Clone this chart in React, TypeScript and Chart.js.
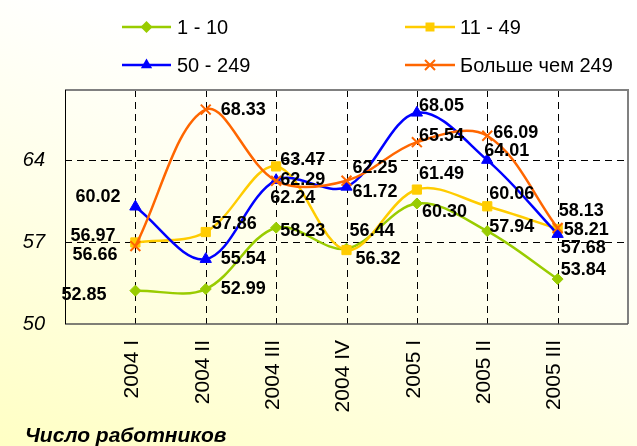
import React, { useEffect, useRef } from 'react';
import { Chart, registerables } from 'chart.js';

Chart.register(...registerables);

// ---- Data ----
const categories = ['2004 I', '2004 II', '2004 III', '2004 IV', '2005 I', '2005 II', '2005 III'];
const seriesNames = ['1 - 10', '11 - 49', '50 - 249', 'Больше чем 249'];
const series1to10 = [52.85, 52.99, 58.23, 56.44, 60.30, 57.94, 53.84];
const series11to49 = [56.97, 57.86, 63.47, 56.32, 61.49, 60.06, 58.13];
const series50to249 = [60.02, 55.54, 62.29, 61.72, 68.05, 64.01, 57.68];
const seriesOver249 = [56.66, 68.33, 62.24, 62.25, 65.54, 66.09, 58.21];
const yTicks = [50, 57, 64];
const yMin = 50;
const yMax = 70;
const axisTitle = 'Число работников';

// ---- Styles ----
const seriesValues = [series1to10, series11to49, series50to249, seriesOver249];
const seriesColors = ['#99CC00', '#FFCC00', '#0000FF', '#FF6600'];
const pointStyles = ['rectRot', 'rect', 'triangle', 'crossRot'];
const pointRadii = [5.5, 6.5, 6.5, 7];
// label offsets (left edge dx, vertical centre dy) relative to each point
const labelOffsets = [
  [[-74, 4], [15, 0], [4, 3], [3, -18], [5, 9], [2, -4], [3, -9]],
  [[-65, -6], [6, -8], [4, -6], [9, 9], [2, -16], [2, -12], [1, -18]],
  [[-60, -10], [15, 0], [4, 0], [6, 5], [2, -7], [-3, -9], [3, 14]],
  [[-63, 9], [15, 0], [-6, 17], [6, -13], [2, -6], [6, -3], [6, 2]],
];
const FONT = "'Liberation Sans', Arial, Helvetica, sans-serif";

function drawMarker(ctx: CanvasRenderingContext2D, style: string, x: number, y: number, color: string) {
  ctx.save();
  ctx.fillStyle = color;
  ctx.strokeStyle = color;
  ctx.beginPath();
  if (style === 'rectRot') {
    const r = 6;
    ctx.moveTo(x, y - r); ctx.lineTo(x + r, y); ctx.lineTo(x, y + r); ctx.lineTo(x - r, y); ctx.closePath();
    ctx.fill();
  } else if (style === 'rect') {
    const s = 4.5;
    ctx.rect(x - s, y - s, 2 * s, 2 * s);
    ctx.fill();
  } else if (style === 'triangle') {
    const r = 6.5;
    ctx.moveTo(x, y - r); ctx.lineTo(x + r * 0.87, y + r * 0.5); ctx.lineTo(x - r * 0.87, y + r * 0.5); ctx.closePath();
    ctx.fill();
  } else {
    const r = 5;
    ctx.lineWidth = 2;
    ctx.moveTo(x - r, y - r); ctx.lineTo(x + r, y + r);
    ctx.moveTo(x + r, y - r); ctx.lineTo(x - r, y + r);
    ctx.stroke();
  }
  ctx.restore();
}

const customPlugin = {
  id: 'customDecor',
  beforeDatasetsDraw(chart: any) {
    const ctx: CanvasRenderingContext2D = chart.ctx;
    const { left, right, top, bottom } = chart.chartArea;
    const xs = chart.scales.x;
    const ys = chart.scales.y;
    ctx.save();
    ctx.strokeStyle = '#000';
    ctx.lineWidth = 1;
    ctx.setLineDash([7, 5]);
    categories.forEach((_, i) => {
      const px = Math.round(xs.getPixelForValue(i + 1)) + 0.5;
      ctx.beginPath(); ctx.moveTo(px, top); ctx.lineTo(px, bottom); ctx.stroke();
    });
    yTicks.forEach((v) => {
      if (v === yMin) return;
      const py = Math.round(ys.getPixelForValue(v)) + 0.5;
      ctx.beginPath(); ctx.moveTo(left, py); ctx.lineTo(right, py); ctx.stroke();
    });
    ctx.setLineDash([]);
    // frame
    ctx.strokeStyle = '#808080';
    ctx.lineWidth = 2;
    ctx.beginPath(); ctx.moveTo(left, top); ctx.lineTo(right, top); ctx.lineTo(right, bottom); ctx.stroke();
    ctx.strokeStyle = '#555';
    ctx.lineWidth = 1.5;
    ctx.beginPath(); ctx.moveTo(left, bottom); ctx.lineTo(right, bottom); ctx.stroke();
    ctx.strokeStyle = '#000';
    ctx.lineWidth = 1;
    ctx.beginPath(); ctx.moveTo(left + 0.5, top); ctx.lineTo(left + 0.5, bottom); ctx.stroke();
    ctx.restore();
  },
  afterDatasetsDraw(chart: any) {
    const ctx: CanvasRenderingContext2D = chart.ctx;
    ctx.save();
    ctx.font = `bold 18px ${FONT}`;
    ctx.fillStyle = '#000';
    ctx.textAlign = 'left';
    ctx.textBaseline = 'middle';
    seriesValues.forEach((vals, si) => {
      const meta = chart.getDatasetMeta(si);
      vals.forEach((v, i) => {
        const el = meta.data[i];
        const [dx, dy] = labelOffsets[si][i];
        ctx.fillText(v.toFixed(2), el.x + dx, el.y + dy);
      });
    });
    ctx.restore();
  },
  afterDraw(chart: any) {
    const ctx: CanvasRenderingContext2D = chart.ctx;
    ctx.save();
    // legend
    const cols = [{ x0: 122, x1: 171, tx: 177 }, { x0: 405, x1: 455, tx: 460 }];
    const rows = [27, 65];
    seriesNames.forEach((name, si) => {
      const c = cols[si % 2];
      const y = rows[Math.floor(si / 2)];
      ctx.strokeStyle = seriesColors[si];
      ctx.lineWidth = 2.5;
      ctx.beginPath(); ctx.moveTo(c.x0, y); ctx.lineTo(c.x1, y); ctx.stroke();
      drawMarker(ctx, pointStyles[si], (c.x0 + c.x1) / 2, y, seriesColors[si]);
      ctx.fillStyle = '#000';
      ctx.font = `20px ${FONT}`;
      ctx.textAlign = 'left';
      ctx.textBaseline = 'middle';
      ctx.fillText(name, c.tx, y + 1);
    });
    // axis title
    ctx.font = `italic bold 21px ${FONT}`;
    ctx.fillStyle = '#000';
    ctx.textAlign = 'left';
    ctx.textBaseline = 'alphabetic';
    ctx.fillText(axisTitle, 25, 442);
    ctx.restore();
  },
};

export default function App() {
  const ref = useRef<HTMLCanvasElement>(null);
  useEffect(() => {
    const canvas = ref.current;
    if (!canvas) return;
    const datasets = seriesValues.map((vals, si) => ({
      label: seriesNames[si],
      data: vals.map((v, i) => ({ x: i + 1, y: v })),
      borderColor: seriesColors[si],
      backgroundColor: seriesColors[si],
      pointStyle: pointStyles[si] as any,
      pointRadius: pointRadii[si],
      pointBorderWidth: si === 3 ? 2 : 1,
      pointBorderColor: seriesColors[si],
      pointBackgroundColor: seriesColors[si],
      borderWidth: 2.5,
      tension: 0.35,
      fill: false,
      order: 3 - si,
    }));
    const chart = new Chart(canvas, {
      type: 'line',
      data: { datasets },
      options: {
        animation: false,
        responsive: false,
        devicePixelRatio: 1,
        layout: { padding: { top: 90, right: 5, left: 0, bottom: 0 } },
        plugins: { legend: { display: false }, tooltip: { enabled: false }, title: { display: false } },
        scales: {
          x: {
            type: 'linear',
            min: 0,
            max: categories.length + 1,
            grid: { display: false, drawTicks: false },
            border: { display: false },
            afterBuildTicks: (scale: any) => {
              scale.ticks = categories.map((_, i) => ({ value: i + 1 }));
            },
            afterFit: (scale: any) => { scale.height = 122; },
            ticks: {
              autoSkip: false,
              maxRotation: 90,
              minRotation: 90,
              padding: 16,
              labelOffset: -3,
              color: '#000',
              font: { family: FONT, size: 21 },
              callback: (value: any) => categories[Number(value) - 1] ?? '',
            },
          },
          y: {
            type: 'linear',
            min: yMin,
            max: yMax,
            grid: { display: false, drawTicks: false },
            border: { display: false },
            afterBuildTicks: (scale: any) => {
              scale.ticks = yTicks.map((v) => ({ value: v }));
            },
            afterFit: (scale: any) => { scale.width = 65; },
            ticks: {
              padding: 20,
              color: '#000',
              font: { family: FONT, size: 20, style: 'italic' },
              callback: (value: any) => String(value),
            },
          },
        },
      },
      plugins: [customPlugin],
    });
    return () => chart.destroy();
  }, []);

  return (
    <div
      style={{
        position: 'absolute',
        left: 0,
        top: 0,
        width: 637,
        height: 446,
        overflow: 'hidden',
        background: 'linear-gradient(20deg, #FFFFC4 0%, #FFFFE8 40%, #FFFFFF 70%)',
      }}
    >
      <canvas ref={ref} width={637} height={446} style={{ display: 'block' }} />
    </div>
  );
}
